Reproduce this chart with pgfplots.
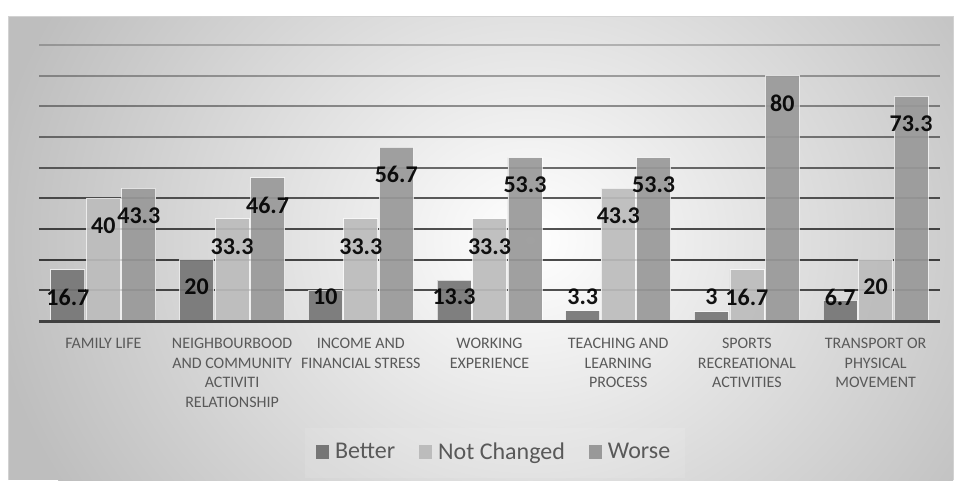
\documentclass[border=0pt]{standalone}
\usepackage{fontspec}
\setmainfont{Carlito}
\usepackage{pgfplots}
\pgfplotsset{compat=1.18}
\definecolor{cBetter}{HTML}{767676}
\definecolor{cNot}{HTML}{BCBCBC}
\definecolor{cWorse}{HTML}{999999}
\definecolor{bgOuter}{HTML}{BEBEBE}
\definecolor{txt}{HTML}{595959}
\definecolor{base}{HTML}{404040}
\pgfplotsset{
  mylegend/.style={legend image code/.code={\path[##1,draw=none,fill opacity=1] (0pt,-4.9pt) rectangle (9.75pt,4.9pt);}},
  mybar/.style={draw=white, draw opacity=0.7, line width=0.6pt, fill opacity=0.92, mylegend},
}
\begin{document}
\begin{tikzpicture}
\begin{scope}[x=0.75pt,y=0.75pt]
\useasboundingbox (0,0) rectangle (957,480);
\fill[white] (0,0) rectangle (957,480);
\fill[bgOuter] (8,0) rectangle (953,464);
\begin{scope}
\clip (8,0) rectangle (953,464);
\shade[inner color=white, outer color=bgOuter] (530,240) ellipse (545 and 480);
\end{scope}
\draw[gray!35, line width=0.75pt] (8,0) -- (8,464) -- (953,464) -- (953,0);
\fill[white, opacity=0.1] (305,2) rectangle (685,52);
\end{scope}
\begin{axis}[
  at={(29.25pt,119.25pt)}, anchor=south west,
  scale only axis, width=675.75pt, height=207pt,
  xmin=-0.5, xmax=6.5, ymin=0, ymax=90,
  ybar=1.1pt, bar width=25.5pt,
  axis line style={draw=none},
  ytick=\empty,
  xtick={0,...,6},
  xticklabels={FAMILY LIFE, {NEIGHBOURBOOD\\AND COMMUNITY\\ACTIVITI\\RELATIONSHIP}, {INCOME AND\\FINANCIAL STRESS}, {WORKING\\EXPERIENCE}, {TEACHING AND\\LEARNING\\PROCESS}, {SPORTS\\RECREATIONAL\\ACTIVITIES}, {TRANSPORT OR\\PHYSICAL\\MOVEMENT}},
  major tick length=0pt,
  xticklabel style={align=center, anchor=north, yshift=-9.5pt, font=\fontsize{12}{14.6}\selectfont, text=txt},
  clip=false,
  nodes near coords={\pgfmathprintnumber[assume math mode=true]{\pgfplotspointmeta}},
  visualization depends on={y \as \rawy},
  every node near coord/.append style={font=\fontsize{18}{20}\selectfont\bfseries, text=black, anchor=center, yshift={max(-20.6,(7.8-\rawy)*2.3)}},
  legend columns=-1,
  legend style={at={(0.5055,-0.4746)}, anchor=center, draw=none, fill=none, font=\fontsize{18}{20}\selectfont, text=txt,
    /tikz/every odd column/.append style={column sep=2.5pt},
    /tikz/every even column/.append style={column sep=16pt}},
]
\draw[black, opacity=0.22, line width=1.5pt] (axis cs:-0.5,90) -- (axis cs:6.5,90);
\draw[black, opacity=0.32, line width=1.5pt] (axis cs:-0.5,80) -- (axis cs:6.5,80);
\draw[black, opacity=0.40, line width=1.5pt] (axis cs:-0.5,70) -- (axis cs:6.5,70);
\draw[black, opacity=0.48, line width=1.5pt] (axis cs:-0.5,60) -- (axis cs:6.5,60);
\draw[black, opacity=0.56, line width=1.5pt] (axis cs:-0.5,50) -- (axis cs:6.5,50);
\draw[black, opacity=0.63, line width=1.5pt] (axis cs:-0.5,40) -- (axis cs:6.5,40);
\draw[black, opacity=0.68, line width=1.5pt] (axis cs:-0.5,30) -- (axis cs:6.5,30);
\draw[black, opacity=0.70, line width=1.5pt] (axis cs:-0.5,20) -- (axis cs:6.5,20);
\draw[black, opacity=0.68, line width=1.5pt] (axis cs:-0.5,10) -- (axis cs:6.5,10);
\addplot[mybar, fill=cBetter] coordinates {(0,16.7) (1,20) (2,10) (3,13.3) (4,3.3) (5,3) (6,6.7)};
\addplot[mybar, fill=cNot] coordinates {(0,40) (1,33.3) (2,33.3) (3,33.3) (4,43.3) (5,16.7) (6,20)};
\addplot[mybar, fill=cWorse] coordinates {(0,43.3) (1,46.7) (2,56.7) (3,53.3) (4,53.3) (5,80) (6,73.3)};
\legend{Better, Not Changed, Worse}
\draw[base, line width=2.25pt] (axis cs:-0.5,0) -- (axis cs:6.5,0);
\end{axis}
\end{tikzpicture}
\end{document}
